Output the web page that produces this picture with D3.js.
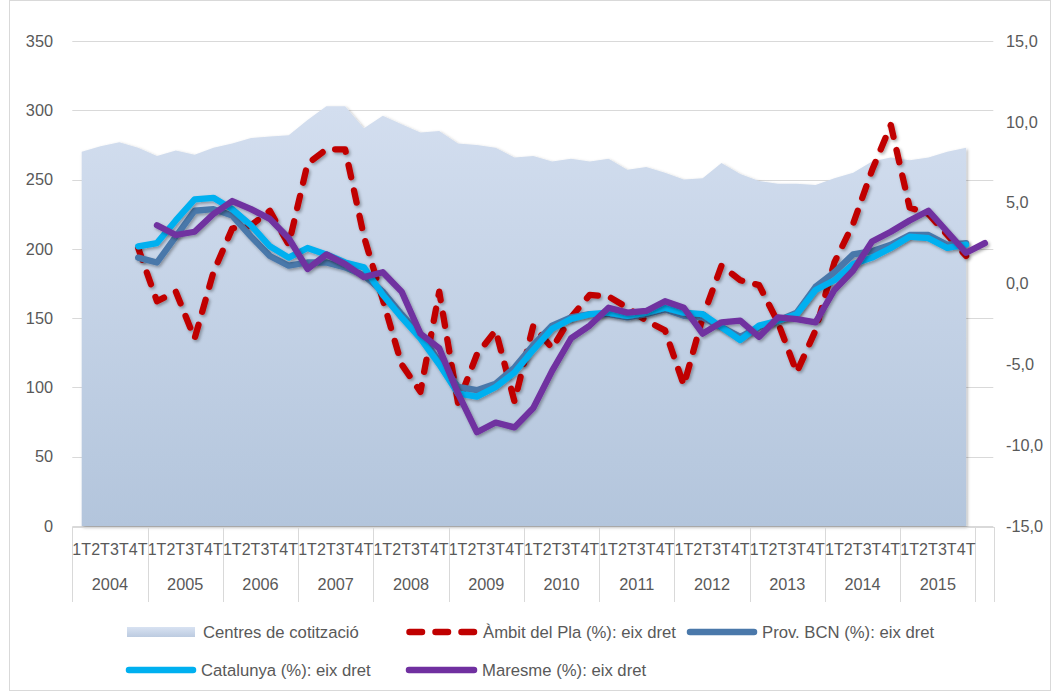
<!DOCTYPE html>
<html>
<head>
<meta charset="utf-8">
<script src="https://cdn.jsdelivr.net/npm/d3@7"></script>
<style>
  html, body { margin: 0; padding: 0; background: #fff; }
  svg { display: block; }
  text { font-family: "Liberation Sans", Arial, sans-serif; fill: #595959; }
</style>
</head>
<body>
<svg id="chart" width="1059" height="695"></svg>
<script>
// ---------------- DATA ----------------
const years = ["2004","2005","2006","2007","2008","2009","2010","2011","2012","2013","2014","2015"];
const quarterLabels = ["1T","2T","3T","4T"];
const leftTicks = [0, 50, 100, 150, 200, 250, 300, 350];
const rightTicks = [-15, -10, -5, 0, 5, 10, 15];

// Centres de cotització (left axis), 2004 1T .. 2015 4T
const centres = [270, 274, 277, 273, 267, 271, 268, 273, 276, 280, 281, 282,
                 293, 303, 303, 287, 296, 290, 284, 285, 276, 275, 273, 266,
                 267, 263, 265, 263, 265, 257, 259, 255, 250, 251, 262, 254,
                 249, 247, 247, 246, 251, 255, 263, 266, 264, 266, 270, 273, null];

// Right axis series (%), indexed by category (49 categories incl. trailing empty one)
const ambit = [null, null, null,
  2.2, -1.1, -0.5, -3.4, 0.7, 3.4, 3.6, 4.5, 2.4, 7.4, 8.3, 8.3, 2.9,
  -1.0, -5.0, -6.7, -0.5, -7.4, -4.4, -2.9, -7.3, -2.6, -4.0, -2.1, -0.7,
  -0.8, -1.5, -2.3, -2.9, -6.3, -2.1, 1.1, 0.2, -0.1, -2.4, -5.5, -2.9,
  1.3, 3.7, 7.0, 9.8, 4.7, 4.3, 3.0, 1.7, null];
const provBCN = [null, null, null,
  1.6, 1.3, 2.9, 4.5, 4.6, 4.2, 2.9, 1.7, 1.1, 1.3, 1.3, 1.0, 0.5,
  -0.5, -1.9, -3.2, -4.8, -6.4, -6.6, -6.2, -5.2, -3.8, -2.6, -2.1, -1.9,
  -1.9, -2.1, -1.9, -1.6, -2.0, -2.1, -2.7, -3.3, -2.7, -2.3, -1.8, -0.2,
  0.7, 1.8, 2.0, 2.4, 3.0, 3.0, 2.4, 2.5, null];
const catalunya = [null, null, null,
  2.3, 2.5, 3.9, 5.2, 5.3, 4.6, 3.6, 2.3, 1.6, 2.2, 1.8, 1.3, 1.0,
  -0.7, -2.1, -3.4, -5.0, -6.8, -7.0, -6.4, -5.5, -4.1, -2.8, -2.2, -1.9,
  -1.8, -2.0, -1.8, -1.5, -1.8, -1.9, -2.7, -3.5, -2.6, -2.3, -1.9, -0.4,
  0.2, 1.2, 1.6, 2.2, 2.9, 2.8, 2.2, 2.4, null];
const maresme = [null, null, null, null,
  3.6, 3.0, 3.2, 4.3, 5.1, 4.6, 4.0, 2.8, 0.9, 1.8, 1.2, 0.4,
  0.7, -0.5, -3.1, -4.0, -6.8, -9.2, -8.6, -8.9, -7.7, -5.4, -3.4, -2.6,
  -1.5, -1.8, -1.7, -1.1, -1.5, -3.1, -2.4, -2.3, -3.3, -2.1, -2.2, -2.4,
  -0.4, 0.8, 2.6, 3.2, 3.9, 4.5, 3.2, 1.9, 2.5];

const seriesNames = ["Centres de cotització", "Àmbit del Pla (%): eix dret", "Prov. BCN (%): eix dret",
                     "Catalunya (%): eix dret", "Maresme (%): eix dret"];
const seriesColors = ["#c9d6ea", "#c00000", "#4a78aa", "#00b0f0", "#7030a0"];

// ---------------- CHART ----------------
const svg = d3.select("#chart");
const W = 1059, H = 695;
const plot = { left: 72.3, right: 994.3, top: 41, bottom: 526 };
const nCat = 49;

const x = d3.scaleBand().domain(d3.range(nCat)).range([plot.left, plot.right]).paddingInner(0).paddingOuter(0);
const cx = k => x(k) + x.bandwidth() / 2;
const yL = d3.scaleLinear().domain([0, 350]).range([plot.bottom, plot.top]);
const yR = d3.scaleLinear().domain([-15, 15]).range([plot.bottom, plot.top]);

const defs = svg.append("defs");
const grad = defs.append("linearGradient").attr("id", "areaGrad")
  .attr("gradientUnits", "userSpaceOnUse").attr("x1", 0).attr("y1", plot.top).attr("x2", 0).attr("y2", plot.bottom);
grad.append("stop").attr("offset", "0%").attr("stop-color", "#d8e2f2");
grad.append("stop").attr("offset", "100%").attr("stop-color", "#b3c5dc");
const lgGrad = defs.append("linearGradient").attr("id", "legGrad").attr("x1", 0).attr("y1", 0).attr("x2", 0).attr("y2", 1);
lgGrad.append("stop").attr("offset", "0%").attr("stop-color", "#d8e2f2");
lgGrad.append("stop").attr("offset", "100%").attr("stop-color", "#bccbe0");

const sh = defs.append("filter").attr("id", "shadow").attr("x", "-10%").attr("y", "-10%").attr("width", "120%").attr("height", "120%");
sh.append("feDropShadow").attr("dx", 1.5).attr("dy", 1.8).attr("stdDeviation", 1.4)
  .attr("flood-color", "#000").attr("flood-opacity", 0.33);
const sh2 = defs.append("filter").attr("id", "shadowA").attr("x", "-5%").attr("y", "-5%").attr("width", "110%").attr("height", "110%");
sh2.append("feDropShadow").attr("dx", 1.5).attr("dy", 1.5).attr("stdDeviation", 1.6)
  .attr("flood-color", "#000").attr("flood-opacity", 0.3);

// chart border
svg.append("rect").attr("x", 9.5).attr("y", 0.5).attr("width", 1041).attr("height", 690)
  .attr("fill", "none").attr("stroke", "#d9d9d9").attr("stroke-width", 1);

// gridlines
svg.append("g").selectAll("line").data(leftTicks).join("line")
  .attr("x1", plot.left).attr("x2", plot.right - 1)
  .attr("y1", d => Math.round(yL(d)) + 0.5).attr("y2", d => Math.round(yL(d)) + 0.5)
  .attr("stroke", "#d9d9d9").attr("stroke-width", 1);

// left axis labels
svg.append("g").selectAll("text").data(leftTicks).join("text")
  .attr("x", 53).attr("y", d => yL(d)).attr("dy", "0.35em")
  .attr("text-anchor", "end").attr("font-size", 16.3).text(d => d);

// right axis labels
const fmtR = d => d3.format(".1f")(d).replace(".", ",").replace("−", "-");
svg.append("g").selectAll("text").data(rightTicks).join("text")
  .attr("x", 1006).attr("y", d => yR(d)).attr("dy", "0.35em")
  .attr("text-anchor", "start").attr("font-size", 16.3).text(fmtR);

// area
const area = d3.area().defined(d => d != null)
  .x((d, i) => cx(i)).y0(yL(0)).y1(d => yL(d));
svg.append("path").datum(centres).attr("d", area)
  .attr("fill", "url(#areaGrad)").attr("filter", "url(#shadowA)");

// lines
const lineR = d3.line().defined(d => d != null).x((d, i) => cx(i)).y(d => yR(d));
const lineSeries = [
  { data: ambit, color: seriesColors[1], dash: "12.5 13.5" },
  { data: provBCN, color: seriesColors[2], dash: null },
  { data: catalunya, color: seriesColors[3], dash: null },
  { data: maresme, color: seriesColors[4], dash: null }
];
lineSeries.forEach(s => {
  svg.append("path").datum(s.data).attr("d", lineR)
    .attr("fill", "none").attr("stroke", s.color).attr("stroke-width", 6.3)
    .attr("stroke-linecap", "round").attr("stroke-linejoin", "round")
    .attr("stroke-dasharray", s.dash)
    .attr("filter", "url(#shadow)");
});

// x axis (multi-level category)
const axisG = svg.append("g");
axisG.append("line").attr("x1", plot.left).attr("x2", plot.right)
  .attr("y1", plot.bottom + 1.5).attr("y2", plot.bottom + 1.5).attr("stroke", "#d9d9d9");
const boundaries = d3.range(0, nCat, 4).concat([nCat]).map(k => k < nCat ? x(k) : plot.right);
axisG.selectAll("line.b").data(boundaries).join("line").attr("class", "b")
  .attr("x1", d => Math.round(d) + 0.5).attr("x2", d => Math.round(d) + 0.5)
  .attr("y1", plot.bottom + 1).attr("y2", 602).attr("stroke", "#d9d9d9");
const qData = d3.range(years.length * 4);
axisG.selectAll("text.q").data(qData).join("text").attr("class", "q")
  .attr("x", k => cx(k)).attr("y", 549.5).attr("dy", "0.35em")
  .attr("text-anchor", "middle").attr("font-size", 16).text(k => quarterLabels[k % 4]);
axisG.selectAll("text.y").data(years).join("text").attr("class", "y")
  .attr("x", (d, i) => (x(i * 4) + x(i * 4 + 3) + x.bandwidth()) / 2).attr("y", 584.5).attr("dy", "0.35em")
  .attr("text-anchor", "middle").attr("font-size", 16.3).text(d => d);

// legend
const leg = svg.append("g");
function legText(xp, yp, t) {
  leg.append("text").attr("x", xp).attr("y", yp).attr("dy", "0.35em").attr("font-size", 16.7).text(t);
}
leg.append("rect").attr("x", 127).attr("y", 627).attr("width", 68).attr("height", 10).attr("fill", "url(#legGrad)");
legText(203, 632, seriesNames[0]);
function legLine(x1, x2, yp, color, dash) {
  leg.append("line").attr("x1", x1).attr("x2", x2).attr("y1", yp).attr("y2", yp)
    .attr("stroke", color).attr("stroke-width", 6.5).attr("stroke-linecap", "round")
    .attr("stroke-dasharray", dash);
}
legLine(409.5, 474, 632, seriesColors[1], "12.5 13.5");
legText(483, 632, seriesNames[1]);
legLine(690, 754, 632, seriesColors[2], null);
legText(762, 632, seriesNames[2]);
legLine(129, 193, 670, seriesColors[3], null);
legText(201, 670, seriesNames[3]);
legLine(409, 474, 670, seriesColors[4], null);
legText(482, 670, seriesNames[4]);
</script>
</body>
</html>
